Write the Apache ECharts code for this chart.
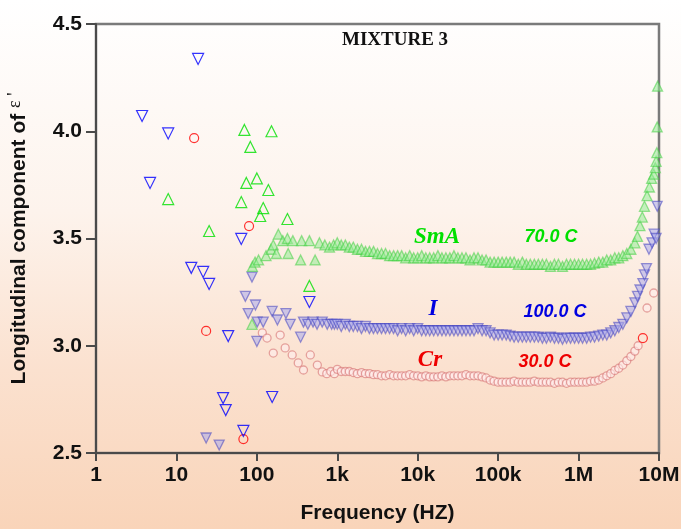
<!DOCTYPE html>
<html>
<head>
<meta charset="utf-8">
<script src="https://cdn.jsdelivr.net/npm/echarts@6/dist/echarts.min.js"></script>
<style>
html,body{margin:0;padding:0;}
#chart{width:681px;height:529px;background:linear-gradient(#ffffff 0%,#fdf3ec 40%,#fbe1cf 70%,#f9d4b9 100%);}
</style>
</head>
<body>
<div id="chart"></div>
<script>
// ---------- tick labels ----------
const xTickValues = [1, 10, 100, 1000, 10000, 100000, 1000000, 10000000];
const xTickLabels = ['1', '10', '100', '1k', '10k', '100k', '1M', '10M'];
const yTicks = [2.5, 3.0, 3.5, 4.0, 4.5];

// ---------- dense sweep frequencies (Hz) ----------
const freqDense = [1000,1120,1260,1410,1580,1780,2000,2240,2510,2820,3160,3550,3980,4470,5010,5620,6310,7080,7940,8910,
10000,11200,12600,14100,15800,17800,20000,22400,25100,28200,31600,35500,39800,44700,50100,56200,63100,70800,79400,89100,
100000,112000,126000,141000,158000,178000,200000,224000,251000,282000,316000,355000,398000,447000,501000,562000,631000,708000,794000,891000,1000000];

// ---------- SmA 70.0 C (green, up triangles) ----------
const smaSparseF = [7.9, 25.5, 64, 70, 74, 83, 100, 110, 120, 139, 152, 240, 450];
const smaSparseV = [3.684, 3.535, 3.67, 4.006, 3.759, 3.927, 3.78, 3.605, 3.642, 3.726, 4.0, 3.591, 3.279];
const smaLowF = [87, 88, 95, 105, 130, 150, 160, 175, 185, 210, 240, 245, 280, 350, 360, 450, 530, 600, 700, 800, 900];
const smaLowV = [3.10, 3.37, 3.39, 3.40, 3.42, 3.45, 3.47, 3.43, 3.52, 3.49, 3.50, 3.43, 3.49, 3.40, 3.49, 3.49, 3.40, 3.48, 3.47, 3.46, 3.47];
const smaDenseV = [3.48,3.47,3.47,3.46,3.46,3.45,3.45,3.44,3.44,3.44,3.43,3.43,3.43,3.42,3.42,3.42,3.42,3.41,3.42,3.41,
3.41,3.42,3.41,3.41,3.41,3.42,3.41,3.41,3.41,3.42,3.41,3.41,3.41,3.40,3.41,3.41,3.40,3.40,3.39,3.39,
3.39,3.39,3.39,3.39,3.39,3.38,3.39,3.38,3.38,3.38,3.38,3.38,3.38,3.37,3.38,3.38,3.37,3.38,3.38,3.38,3.38];
const smaTailF = [1120000,1260000,1410000,1580000,1780000,2000000,2240000,2510000,2820000,3160000,3550000,3980000,4470000,5010000,5400000,5800000,6200000,6600000,7100000,7600000,8100000,8600000,9000000,9200000,9400000,9500000,9600000];
const smaTailV = [3.38,3.38,3.38,3.385,3.39,3.39,3.40,3.40,3.41,3.41,3.42,3.43,3.45,3.48,3.51,3.56,3.60,3.65,3.70,3.74,3.78,3.80,3.83,3.86,3.90,4.02,4.21];

// ---------- I 100.0 C (blue, down triangles) ----------
const isoSparseF = [3.74, 4.7, 7.9, 15.3, 18.6, 21.5, 25.5, 38, 41, 44, 64, 68, 155, 450];
const isoSparseV = [4.071, 3.759, 3.99, 3.363, 4.337, 3.344, 3.288, 2.756, 2.70, 3.045, 3.498, 2.603, 2.761, 3.204];
const isoLowF = [23.4, 34, 72, 78, 87, 96, 100, 101, 120, 155, 180, 230, 260, 350, 380, 430, 500, 560, 650, 750, 850, 920];
const isoLowV = [2.57, 2.537, 3.23, 3.15, 3.32, 3.19, 3.02, 3.11, 3.11, 3.16, 3.12, 3.15, 3.10, 3.04, 3.11, 3.10, 3.11, 3.10, 3.11, 3.10, 3.10, 3.10];
const isoDenseV = [3.10,3.09,3.10,3.09,3.09,3.09,3.08,3.09,3.08,3.08,3.08,3.08,3.08,3.08,3.08,3.07,3.08,3.07,3.08,3.07,
3.08,3.07,3.07,3.07,3.07,3.07,3.07,3.07,3.07,3.07,3.07,3.07,3.07,3.07,3.07,3.08,3.07,3.07,3.06,3.05,
3.05,3.05,3.05,3.045,3.04,3.04,3.04,3.04,3.04,3.04,3.04,3.035,3.035,3.04,3.035,3.035,3.03,3.035,3.035,3.035,3.035];
const isoTailF = [1120000,1260000,1410000,1580000,1780000,2000000,2240000,2510000,2820000,3160000,3550000,3980000,4470000,5010000,5400000,5800000,6300000,6600000,7000000,7500000,8200000,8700000,9200000,9500000];
const isoTailV = [3.035,3.035,3.04,3.04,3.045,3.05,3.05,3.06,3.07,3.085,3.10,3.13,3.16,3.20,3.23,3.26,3.29,3.33,3.36,3.45,3.48,3.52,3.50,3.65];

// ---------- Cr 30.0 C (red, circles) ----------
const crSparseF = [16.6, 23.4, 68, 80, 6300000];
const crSparseV = [3.968, 3.069, 2.565, 3.558, 3.036];
const crLowF = [117, 134, 160, 195, 225, 275, 327, 380, 462, 565, 650, 740, 830, 920];
const crLowV = [3.06, 3.036, 2.966, 3.05, 2.99, 2.957, 2.92, 2.887, 2.957, 2.91, 2.878, 2.87, 2.88, 2.87];
const crDenseV = [2.89,2.88,2.88,2.88,2.875,2.87,2.875,2.87,2.87,2.865,2.865,2.86,2.86,2.865,2.86,2.86,2.86,2.86,2.865,2.86,
2.86,2.855,2.86,2.855,2.855,2.855,2.86,2.855,2.86,2.86,2.86,2.86,2.865,2.86,2.86,2.86,2.855,2.85,2.84,2.835,
2.83,2.83,2.83,2.83,2.835,2.83,2.83,2.83,2.83,2.835,2.83,2.83,2.83,2.83,2.825,2.83,2.83,2.825,2.83,2.83,2.83];
const crTailF = [1120000,1260000,1410000,1580000,1780000,2000000,2240000,2510000,2820000,3160000,3550000,3980000,4470000,5010000,5500000,7100000,8600000];
const crTailV = [2.83,2.83,2.835,2.835,2.84,2.85,2.86,2.87,2.885,2.895,2.91,2.93,2.95,2.975,3.0,3.176,3.246];

function pairs(f, v) { return f.map((x, i) => [x, v[i]]); }

const smaDense = pairs(smaLowF, smaLowV).concat(pairs(freqDense, smaDenseV), pairs(smaTailF, smaTailV));
const isoDense = pairs(isoLowF, isoLowV).concat(pairs(freqDense, isoDenseV), pairs(isoTailF, isoTailV));
const crDense = pairs(crLowF, crLowV).concat(pairs(freqDense, crDenseV), pairs(crTailF, crTailV));

const chart = echarts.init(document.getElementById('chart'), null, {renderer: 'canvas'});

const axisFont = {fontFamily: 'Liberation Sans, Arial, sans-serif', fontWeight: 'bold', fontSize: 21, color: '#111'};

chart.setOption({
  backgroundColor: 'transparent',
  animation: false,
  grid: {left: 96, top: 24, right: 22, bottom: 76, show: true, borderColor: '#7a7a7a', borderWidth: 2.5, backgroundColor: 'transparent', outerBoundsMode: 'none', containLabel: false},
  xAxis: {
    type: 'log', logBase: 10, min: 1, max: 10000000, splitNumber: 7,
    name: 'Frequency (HZ)', nameLocation: 'middle', nameGap: 50,
    nameTextStyle: Object.assign({}, axisFont, {fontSize: 21}),
    axisLine: {lineStyle: {color: '#4a4a4a', width: 2}},
    axisTick: {show: true, length: 8, lineStyle: {color: '#4a4a4a', width: 2}},
    axisLabel: Object.assign({}, axisFont, {margin: 12, formatter: function (v) {
      const i = xTickValues.indexOf(Math.round(v));
      return i >= 0 ? xTickLabels[i] : '';
    }}),
    splitLine: {show: false}
  },
  yAxis: {
    type: 'value', min: 2.5, max: 4.5, interval: 0.5,
    name: "Longitudinal component of {e|ε '}", nameLocation: 'middle', nameGap: 64, nameRotate: 90,
    nameTextStyle: Object.assign({}, axisFont, {fontSize: 21, rich: {e: {fontFamily: 'Liberation Serif, serif', fontSize: 18, fontWeight: 'normal', color: '#111', padding: [0, 0, 8, 0]}}}),
    axisLine: {show: true, lineStyle: {color: '#4a4a4a', width: 2}},
    axisTick: {show: true, length: 10, lineStyle: {color: '#4a4a4a', width: 2}},
    axisLabel: Object.assign({}, axisFont, {margin: 14, formatter: function (v) {
      const i = yTicks.indexOf(Math.round(v * 10) / 10);
      return i >= 0 ? yTicks[i].toFixed(1) : '';
    }}),
    splitLine: {show: false}
  },
  graphic: [
    {type: 'text', left: 342, top: 31, style: {text: 'MIXTURE 3', font: 'bold 19px "Liberation Serif", "Times New Roman", serif', fill: '#111'}},
    {type: 'text', x: 437, y: 237, style: {text: 'SmA', font: 'italic bold 23px "Liberation Serif", serif', fill: '#00e000', align: 'center', verticalAlign: 'middle'}},
    {type: 'text', x: 551, y: 237, style: {text: '70.0 C', font: 'italic bold 18px "Liberation Sans", Arial, sans-serif', fill: '#00e000', align: 'center', verticalAlign: 'middle'}},
    {type: 'text', x: 433, y: 309, style: {text: 'I', font: 'italic bold 23px "Liberation Serif", serif', fill: '#0000e0', align: 'center', verticalAlign: 'middle'}},
    {type: 'text', x: 555, y: 312, style: {text: '100.0 C', font: 'italic bold 18px "Liberation Sans", Arial, sans-serif', fill: '#0000e0', align: 'center', verticalAlign: 'middle'}},
    {type: 'text', x: 430, y: 360, style: {text: 'Cr', font: 'italic bold 23px "Liberation Serif", serif', fill: '#ee0000', align: 'center', verticalAlign: 'middle'}},
    {type: 'text', x: 545, y: 362, style: {text: '30.0 C', font: 'italic bold 18px "Liberation Sans", Arial, sans-serif', fill: '#ee0000', align: 'center', verticalAlign: 'middle'}}
  ],
  series: [
    {name: 'Cr dense', type: 'scatter', data: crDense, symbol: 'circle', symbolSize: 8,
      itemStyle: {color: 'rgba(255,236,236,0.75)', borderColor: 'rgba(210,105,105,0.7)', borderWidth: 1.3}},
    {name: 'I dense', type: 'scatter', data: isoDense, symbol: 'triangle', symbolRotate: 180, symbolSize: 10,
      itemStyle: {color: 'rgba(170,170,235,0.7)', borderColor: 'rgba(60,60,190,0.65)', borderWidth: 1.3}},
    {name: 'SmA dense', type: 'scatter', data: smaDense, symbol: 'triangle', symbolSize: 10,
      itemStyle: {color: 'rgba(150,235,150,0.7)', borderColor: 'rgba(60,205,60,0.65)', borderWidth: 1.3}},
    {name: 'Cr', type: 'scatter', data: pairs(crSparseF, crSparseV), symbol: 'circle', symbolSize: 9,
      itemStyle: {color: 'rgba(0,0,0,0)', borderColor: '#ff0000', borderWidth: 1.2}},
    {name: 'I', type: 'scatter', data: pairs(isoSparseF, isoSparseV), symbol: 'triangle', symbolRotate: 180, symbolSize: 11,
      itemStyle: {color: 'rgba(0,0,0,0)', borderColor: '#0000ff', borderWidth: 1.2}},
    {name: 'SmA', type: 'scatter', data: pairs(smaSparseF, smaSparseV), symbol: 'triangle', symbolSize: 11,
      itemStyle: {color: 'rgba(0,0,0,0)', borderColor: '#00e000', borderWidth: 1.2}}
  ]
});
</script>
</body>
</html>
